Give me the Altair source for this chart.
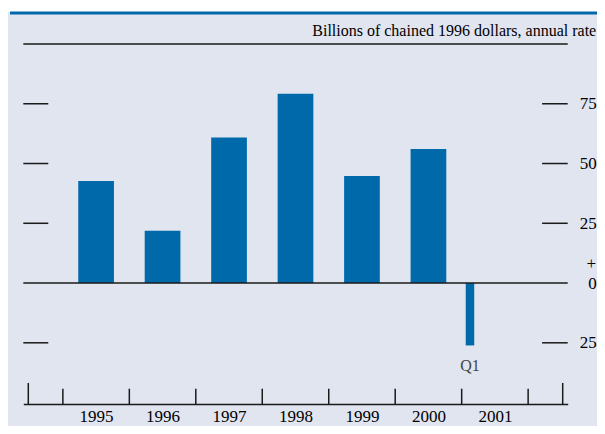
import altair as alt
import pandas as pd

# ---- data ----
years = [1995, 1996, 1997, 1998, 1999, 2000]
annual_values = [42.7, 21.9, 60.9, 79.2, 44.8, 56.1]
quarter_labels = ["Q1"]
quarter_x = [2001.125]
quarter_values = [-26.1]
year_label_pos = [1995.5, 1996.5, 1997.5, 1998.5, 1999.5, 2000.5, 2001.5]
year_boundaries = [1995, 1996, 1997, 1998, 1999, 2000, 2001, 2002]
x_edges = [1994.48, 2002.52]
y_tick_values = [75, 50, 25, -25]
y_label_values = [75, 50, 25, 0, -25]
x_domain = [1994.48, 2002.52]
y_domain = [-50.6, 100]
header = ["Billions of chained 1996 dollars, annual rate"]

BLUE = "#0069aa"
BG = "#e1e5f0"
INK = "#1a1a1a"
FONT = "Liberation Serif"

W = 544.4
H = 360
TOTAL_W = 589
TOTAL_H = 418
PAD_L = 15.3
PAD_T = 36
RIGHT_LABEL = 28.5

xs = alt.Scale(domain=x_domain, nice=False, zero=False)
ys = alt.Scale(domain=y_domain, nice=False, zero=False)

x_axis = alt.Axis(values=year_label_pos, labelExpr="'' + floor(datum.value)", ticks=False,
                  grid=False, domain=True, domainColor=INK, domainWidth=1.5,
                  labelFont=FONT, labelFontSize=17, labelColor="black",
                  labelBaseline="alphabetic", labelPadding=17.8, title=None,
                  labelFlush=False, labelOverlap=False)
y_axis = alt.Axis(orient="right", values=y_label_values, labelExpr="'' + abs(datum.value)",
                  ticks=False, tickSize=0, grid=False, domain=False,
                  labelFont=FONT, labelFontSize=17, labelColor="black",
                  labelAlign="right", labelPadding=RIGHT_LABEL, title=None,
                  labelFlush=False, labelOverlap=False)


def X(field):
    return alt.X(field, scale=xs, axis=x_axis)


def Y(field):
    return alt.Y(field, scale=ys, axis=y_axis)


bars_df = pd.DataFrame({"year": years, "value": annual_values})
bars_df["mid"] = bars_df["year"] + 0.5
q_df = pd.DataFrame({"label": quarter_labels, "x": quarter_x, "value": quarter_values})
ytick_df = pd.DataFrame({"v": y_tick_values})
bound_df = pd.DataFrame({"b": year_boundaries})
edge_df = pd.DataFrame({"e": x_edges})
zero_df = pd.DataFrame({"v": [0]})
top_df = pd.DataFrame({"v": [y_domain[1]]})
header_df = pd.DataFrame({"t": header})

bars = alt.Chart(bars_df).mark_bar(size=35.7, color=BLUE).encode(
    x=X("mid:Q"), y=Y("value:Q")
)

qbar = alt.Chart(q_df).mark_bar(size=8.5, color=BLUE).encode(
    x=X("x:Q"), y=Y("value:Q")
)

qtext = alt.Chart(q_df).mark_text(font=FONT, fontSize=16, color="#444444",
                                  baseline="middle", dy=21).encode(
    x=X("x:Q"), y=Y("value:Q"), text="label:N"
)

left_ticks = alt.Chart(ytick_df).mark_rule(color=INK, strokeWidth=1.5).encode(
    y=Y("v:Q"), x=alt.value(0), x2=alt.value(25)
)
right_ticks = alt.Chart(ytick_df).mark_rule(color=INK, strokeWidth=1.5).encode(
    y=Y("v:Q"), x=alt.value(W - 25.6), x2=alt.value(W)
)

zero_line = alt.Chart(zero_df).mark_rule(color=INK, strokeWidth=1.5).encode(
    y=Y("v:Q"), x=alt.value(0), x2=alt.value(W)
)
top_line = alt.Chart(top_df).mark_rule(color=INK, strokeWidth=1.5).encode(
    y=Y("v:Q"), x=alt.value(0), x2=alt.value(W)
)

bound_ticks = alt.Chart(bound_df).mark_rule(color=INK, strokeWidth=1.5).encode(
    x=X("b:Q"), y=alt.value(H - 15.3), y2=alt.value(H)
)
edge_ticks = alt.Chart(edge_df).mark_rule(color=INK, strokeWidth=1.5).encode(
    x=X("e:Q"), y=alt.value(H - 21), y2=alt.value(H)
)

plus = alt.Chart(zero_df).mark_text(
    font=FONT, fontSize=17, color="black", align="right", baseline="middle", dy=-19
).encode(y=Y("v:Q"), x=alt.value(W + RIGHT_LABEL), text=alt.value("+"))

header_text = alt.Chart(header_df).mark_text(
    font=FONT, fontSize=16, color="black", align="right", baseline="alphabetic"
).encode(x=alt.value(W + RIGHT_LABEL), y=alt.value(-8.5), text="t:N")

blue_line = alt.Chart(zero_df).mark_rule(color=BLUE, strokeWidth=3).encode(
    x=alt.value(-13.3), x2=alt.value(W + 40), y=alt.value(-31)
)
white_strip = alt.Chart(zero_df).mark_rule(color="white", strokeWidth=4).encode(
    x=alt.value(-16), x2=alt.value(W + 40), y=alt.value(-34)
)

chart = alt.layer(
    white_strip, blue_line, bars, qbar, qtext, left_ticks, right_ticks, zero_line,
    top_line, bound_ticks, edge_ticks, plus, header_text
).properties(
    width=W, height=H,
    autosize=alt.AutoSizeParams(type="none"),
    padding={"left": PAD_L, "top": PAD_T, "right": TOTAL_W - PAD_L - W,
             "bottom": TOTAL_H - PAD_T - H},
    background=BG,
).configure_view(stroke=None)

chart.save("out.html", embed_options={"renderer": "svg", "actions": False})
